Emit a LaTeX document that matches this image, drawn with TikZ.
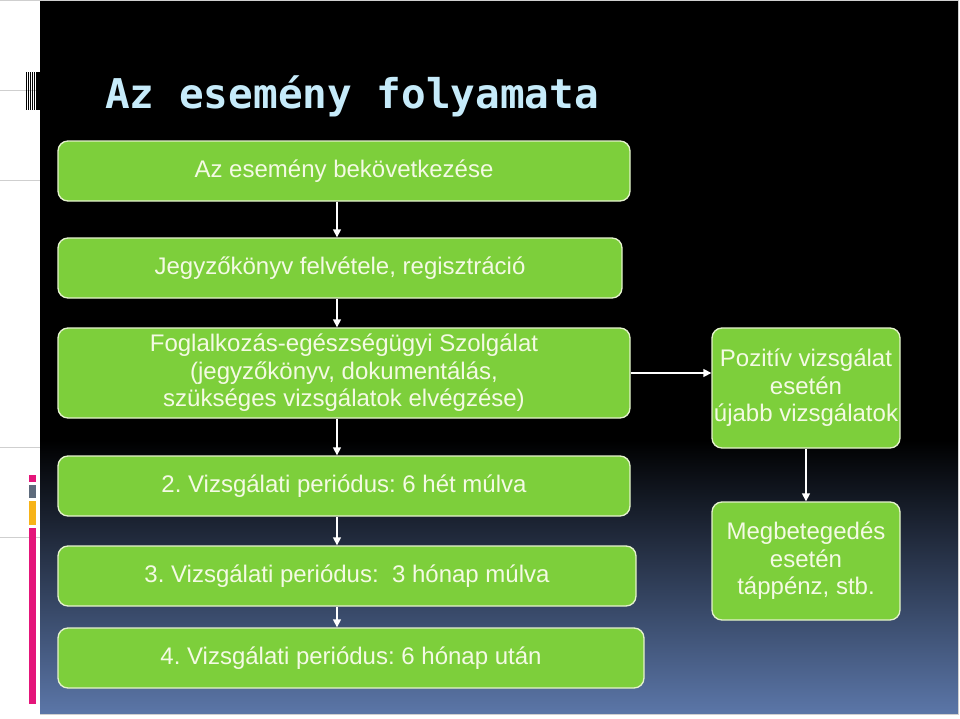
\documentclass[tikz,border=0pt]{standalone}
\usepackage{fontspec}
\setmainfont{Liberation Sans}
\newfontfamily\titlefont{DejaVu Sans Mono}
\usepackage{xcolor}
\usetikzlibrary{arrows.meta}
\definecolor{boxgreen}{HTML}{7DCF3B}
\definecolor{boxedge}{HTML}{E4F2CC}
\definecolor{boxtext}{HTML}{F4FAE4}
\definecolor{titleblue}{HTML}{C6EBFA}
\definecolor{panelblue}{HTML}{5B76A8}
\definecolor{edgegray}{HTML}{CFCFCF}
\definecolor{barpink}{HTML}{E4157A}
\definecolor{bargray}{HTML}{5E6B7C}
\definecolor{barorange}{HTML}{F7B318}
\frenchspacing

\begin{document}
\begin{tikzpicture}[x=0.75pt,y=-0.75pt,
      box/.style={draw=boxedge,line width=1pt,rounded corners=7.5pt,fill=boxgreen,text=boxtext,
        align=center,inner sep=2pt,font=\fontsize{18}{20.7}\selectfont},
      arr/.style={draw=white,line width=1pt,-{Triangle[width=6pt,length=6pt]}},
      rim/.style={draw=edgegray,line width=0.6pt}]
    \useasboundingbox (0,0) rectangle (960,718);
    % background panel
    \fill[black] (40,0) rectangle (958,441);
    \fill[top color=black,bottom color=panelblue] (40,440) rectangle (958,714);
    \draw[rim] (0,0.5) -- (958,0.5);
    \draw[rim] (958,0) -- (958,714) -- (40,714);
    \foreach \y in {90,180,447,537} {
      \draw[rim] (0,\y) -- (40,\y);
    }
    % left marks
    \foreach \x/\w in {25.5/0.9,27.5/0.9,29.5/1,31.5/1,33.5/1,35.6/4.4} {
      \fill[black] (\x,72) rectangle ++(\w,38);
    }
    \fill[barpink] (29,475) rectangle (36,482);
    \fill[bargray] (29,485) rectangle (36,498);
    \fill[barorange] (29,501) rectangle (36,525);
    \fill[barpink] (29,528) rectangle (36,704);
    % title
    \node[anchor=base west,inner sep=0pt,text=titleblue,
      font=\titlefont\bfseries\fontsize{30.75}{36}\selectfont] (title) at (105,108) {Az esemény folyamata};
    % boxes
    \node[box,minimum width=429pt,minimum height=45pt] (esemeny) at (344,171) {Az esemény bekövetkezése};
    \node[box,minimum width=423pt,minimum height=45pt] (jegyzo) at (340,268) {Jegyzőkönyv felvétele, regisztráció};
    \node[box,minimum width=429pt,minimum height=67.5pt] (szolg) at (344,373)
      {Foglalkozás-egészségügyi Szolgálat\\(jegyzőkönyv, dokumentálás,\\szükséges vizsgálatok elvégzése)};
    \node[box,minimum width=429pt,minimum height=45pt] (per2) at (344,486) {2. Vizsgálati periódus: 6 hét múlva};
    \node[box,minimum width=433.5pt,minimum height=45pt] (per3) at (347,576) {3. Vizsgálati periódus:\ \ 3 hónap múlva};
    \node[box,minimum width=439.5pt,minimum height=45pt] (per4) at (351,658) {4. Vizsgálati periódus: 6 hónap után};
    \node[box,minimum width=141pt,minimum height=90pt,inner sep=0pt] (pozitiv) at (806,388)
      {Pozitív vizsgálat\\esetén\\újabb vizsgálatok};
    \node[box,minimum width=141pt,minimum height=88.5pt,inner sep=0pt] (beteg) at (806,561)
      {Megbetegedés\\esetén\\táppénz, stb.};
    % connectors
    \coordinate (ax) at (337,0);
    \foreach \a/\b in {esemeny/jegyzo,jegyzo/szolg,szolg/per2,per2/per3,per3/per4} {
      \draw[arr] (\a.south -| ax) -- (\b.north -| ax);
    }
    \draw[arr] (szolg.east) -- (szolg.east -| pozitiv.west);
    \draw[arr] (pozitiv.south) -- (beteg.north);
  \end{tikzpicture}
\end{document}
